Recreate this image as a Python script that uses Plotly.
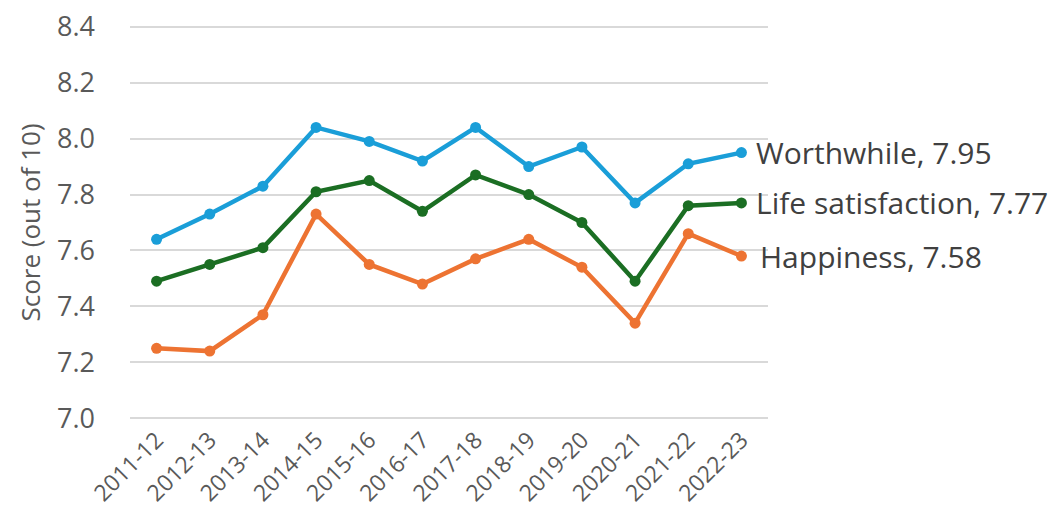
import plotly.graph_objects as go

years = ["2011-12", "2012-13", "2013-14", "2014-15", "2015-16", "2016-17",
         "2017-18", "2018-19", "2019-20", "2020-21", "2021-22", "2022-23"]
worthwhile = [7.64, 7.73, 7.83, 8.04, 7.99, 7.92, 8.04, 7.90, 7.97, 7.77, 7.91, 7.95]
life_satisfaction = [7.49, 7.55, 7.61, 7.81, 7.85, 7.74, 7.87, 7.80, 7.70, 7.49, 7.76, 7.77]
happiness = [7.25, 7.24, 7.37, 7.73, 7.55, 7.48, 7.57, 7.64, 7.54, 7.34, 7.66, 7.58]
y_ticks = [7.0, 7.2, 7.4, 7.6, 7.8, 8.0, 8.2, 8.4]

series = [
    ("Worthwhile", worthwhile, "#1A9ED8", 13),
    ("Life satisfaction", life_satisfaction, "#1B6E23", 13),
    ("Happiness", happiness, "#ED7332", 17),
]

FONT = "Open Sans"
fig = go.Figure()
for name, vals, color, shift in series:
    fig.add_trace(go.Scatter(
        x=years, y=vals, mode="lines+markers", name=name,
        line=dict(color=color, width=4.5),
        marker=dict(color=color, size=11),
        cliponaxis=False,
    ))
    fig.add_annotation(
        x=years[-1], y=vals[-1], text=f"{name}, {vals[-1]:.2f}",
        xanchor="left", yanchor="middle", xshift=shift, showarrow=False,
        font=dict(family=FONT, size=30, color="#404040"),
    )

# page body adds an 8px offset, so the figure is sized to compensate
fig.update_layout(
    width=1048, height=500,
    margin=dict(l=122, r=288, t=16, b=87, autoexpand=False),
    paper_bgcolor="white", plot_bgcolor="white",
    showlegend=False,
    font=dict(family=FONT, color="#595959"),
)
fig.update_xaxes(
    type="category", range=[-0.5, len(years) - 0.5], autorange=False,
    tickangle=-45, showgrid=False, showline=False, zeroline=False,
    tickfont=dict(family=FONT, size=23, color="#595959"), ticks="",
    automargin=False,
)
fig.update_yaxes(
    range=[6.99, 8.41], autorange=False, tickvals=y_ticks,
    tickformat=".1f", showgrid=True,
    gridcolor="#D9D9D9", gridwidth=1.5, zeroline=False, showline=False,
    tickfont=dict(family=FONT, size=27, color="#595959"), ticks="",
    ticklabelstandoff=34, ticklabeloverflow="allow", automargin=False,
    title=dict(text="Score (out of 10)", font=dict(family=FONT, size=26, color="#595959"), standoff=8),
)

fig.write_html("out.html")
